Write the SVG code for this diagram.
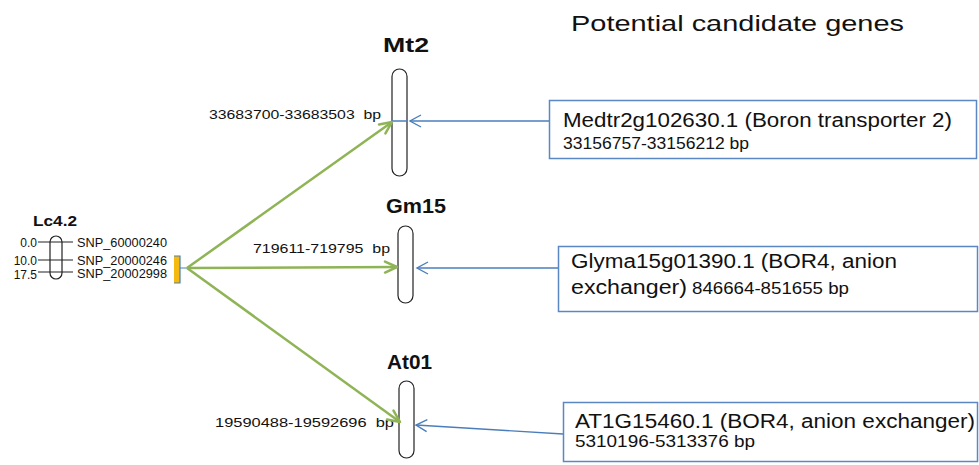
<svg xmlns="http://www.w3.org/2000/svg" width="979" height="465" viewBox="0 0 979 465">
  <style>
    text { font-family: "Liberation Sans", Arial, sans-serif; fill: #111; white-space: pre; }
    .title { font-size: 22px; }
    .chrname { font-size: 20px; font-weight: bold; }
    .lgname { font-size: 15px; font-weight: bold; }
    .pos { font-size: 13px; }
    .gene { font-size: 19.5px; }
    .coord { font-size: 16px; }
    .lg { font-size: 12px; }
    .chrom { fill: #fff; stroke: #222; stroke-width: 1.2; }
    .box { fill: #fff; stroke: #5A88C4; stroke-width: 1.5; }
    .synteny { stroke: #8FB456; stroke-width: 2.5; fill: none; marker-end: url(#greenHead); }
    .hit { stroke: #4A7EBB; stroke-width: 1.4; fill: none; marker-end: url(#blueHead); }
    .tick { stroke: #222; stroke-width: 1.1; }
  </style>
  <defs>
    <marker id="greenHead" markerUnits="userSpaceOnUse" markerWidth="14" markerHeight="12" refX="13" refY="6" orient="auto" overflow="visible">
      <path d="M1,0.5 L13,6 L1,11.5" fill="none" stroke="#8FB456" stroke-width="2.5" stroke-linecap="round" stroke-linejoin="round"/>
    </marker>
    <marker id="blueHead" markerUnits="userSpaceOnUse" markerWidth="12" markerHeight="13" refX="11" refY="6.5" orient="auto" overflow="visible">
      <path d="M0,0.5 L11,6.5 L0,12.5" fill="none" stroke="#4A7EBB" stroke-width="1.4"/>
    </marker>
  </defs>

  <rect width="979" height="465" fill="#fff"/>

  <text class="title" x="571" y="31" textLength="333" lengthAdjust="spacingAndGlyphs">Potential candidate genes</text>

  <!-- Lentil linkage group Lc4.2 -->
  <g id="Lc4.2">
    <text class="lgname" x="33" y="226" textLength="44" lengthAdjust="spacingAndGlyphs">Lc4.2</text>
    <rect class="chrom" x="50" y="236" width="12" height="43" rx="6"/>
    <line class="tick" x1="38" y1="242" x2="73" y2="242"/>
    <line class="tick" x1="38" y1="260" x2="73" y2="260"/>
    <line class="tick" x1="38" y1="272" x2="73" y2="272"/>
    <text class="lg" x="37" y="247" text-anchor="end">0.0</text>
    <text class="lg" x="37" y="265" text-anchor="end">10.0</text>
    <text class="lg" x="37" y="279" text-anchor="end">17.5</text>
    <text class="lg" x="77" y="247" textLength="90" lengthAdjust="spacingAndGlyphs">SNP_60000240</text>
    <text class="lg" x="77" y="265" textLength="90" lengthAdjust="spacingAndGlyphs">SNP_20000246</text>
    <text class="lg" x="77" y="278" textLength="90" lengthAdjust="spacingAndGlyphs">SNP_20002998</text>
    <rect x="174" y="256" width="6" height="27" fill="#F6B90F"/>
    <path d="M174,256 H180 V283 H174 M180,268 H187" fill="none" stroke="#4A7EBB" stroke-width="1.2"/>
  </g>

  <!-- Medicago chromosome 2 -->
  <g id="Mt2">
    <text class="chrname" x="383" y="52" textLength="46" lengthAdjust="spacingAndGlyphs">Mt2</text>
    <rect class="chrom" x="392" y="69" width="15" height="107" rx="7.5"/>
    <line x1="392" y1="121" x2="407" y2="121" stroke="#4A7EBB" stroke-width="1.5"/>
    <text class="pos" x="209" y="119" textLength="172" lengthAdjust="spacingAndGlyphs">33683700-33683503  bp</text>
  </g>

  <!-- Soybean chromosome 15 -->
  <g id="Gm15">
    <text class="chrname" x="386" y="213" textLength="60" lengthAdjust="spacingAndGlyphs">Gm15</text>
    <rect class="chrom" x="398" y="226" width="15" height="77" rx="7.5"/>
    <text class="pos" x="253" y="253" textLength="137" lengthAdjust="spacingAndGlyphs">719611-719795  bp</text>
  </g>

  <!-- Arabidopsis chromosome 1 -->
  <g id="At01">
    <text class="chrname" x="387" y="369" textLength="45" lengthAdjust="spacingAndGlyphs">At01</text>
    <rect class="chrom" x="399" y="381" width="15" height="77" rx="7.5"/>
    <text class="pos" x="215" y="427" textLength="179" lengthAdjust="spacingAndGlyphs">19590488-19592696  bp</text>
  </g>

  <!-- Candidate gene boxes -->
  <g id="gene-Medtr2g102630">
    <rect class="box" x="549.5" y="100.5" width="427" height="58"/>
    <text class="gene" x="563" y="127" textLength="389" lengthAdjust="spacingAndGlyphs">Medtr2g102630.1 (Boron transporter 2)</text>
    <text class="coord" x="563" y="149" textLength="186" lengthAdjust="spacingAndGlyphs">33156757-33156212 bp</text>
  </g>

  <g id="gene-Glyma15g01390">
    <rect class="box" x="558.5" y="246.5" width="419" height="65"/>
    <text class="gene" x="571" y="268" textLength="326" lengthAdjust="spacingAndGlyphs">Glyma15g01390.1 (BOR4, anion</text>
    <text class="gene" x="571" y="294" textLength="116" lengthAdjust="spacingAndGlyphs">exchanger)</text>
    <text class="coord" x="692" y="294" textLength="157" lengthAdjust="spacingAndGlyphs">846664-851655 bp</text>
  </g>

  <g id="gene-AT1G15460">
    <rect class="box" x="563.5" y="402.5" width="414" height="59"/>
    <text class="gene" x="575" y="428" textLength="400" lengthAdjust="spacingAndGlyphs">AT1G15460.1 (BOR4, anion exchanger)</text>
    <text class="coord" x="575" y="447" textLength="180" lengthAdjust="spacingAndGlyphs">5310196-5313376 bp</text>
  </g>

  <!-- Connectors -->
  <g id="connectors">
    <line class="synteny" x1="187" y1="268" x2="392" y2="122"/>
    <line class="synteny" x1="187" y1="268" x2="397" y2="267"/>
    <line class="synteny" x1="187" y1="268" x2="400" y2="422"/>
    <line class="hit" x1="549" y1="121" x2="410" y2="121"/>
    <line class="hit" x1="558" y1="268" x2="417" y2="268"/>
    <line class="hit" x1="563" y1="434" x2="416" y2="425"/>
  </g>
</svg>
